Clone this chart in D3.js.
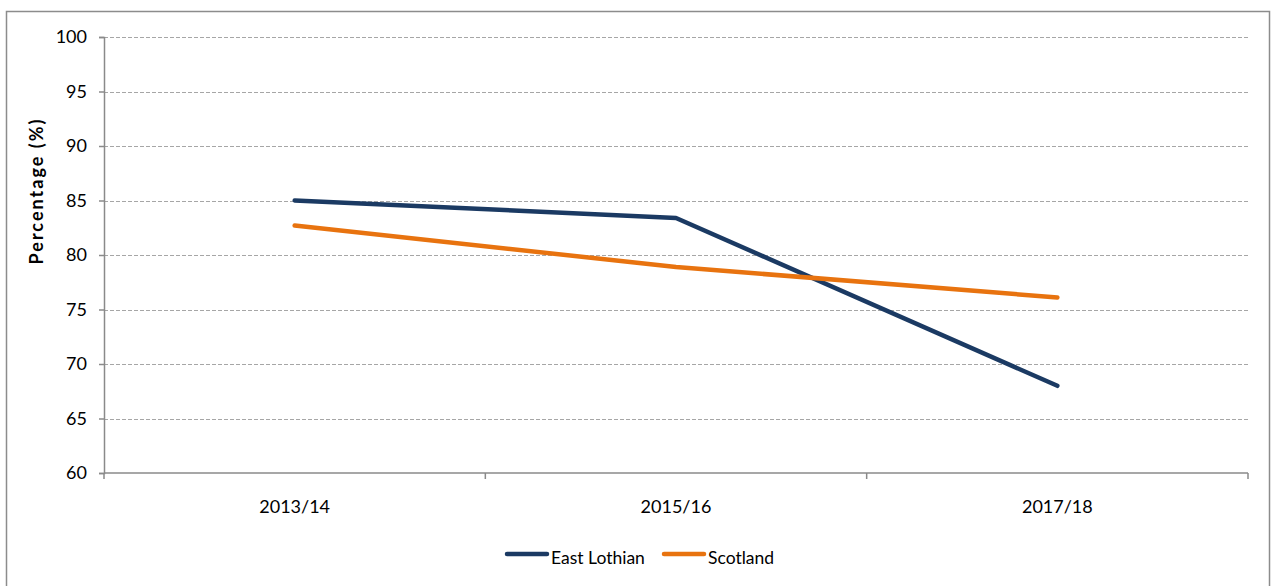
<!DOCTYPE html>
<html>
<head>
<meta charset="utf-8">
<script src="https://cdn.jsdelivr.net/npm/d3@7"></script>
<style>
  html, body { margin: 0; padding: 0; background: #fff; }
  svg { display: block; }
  text { font-family: Lato, "Open Sans", sans-serif; fill: #000; }
</style>
</head>
<body>
<svg id="chart" width="1274" height="586"></svg>
<script>
const categories = ["2013/14", "2015/16", "2017/18"];
const eastLothian = [85.0, 83.4, 68.0];
const scotland = [82.7, 78.9, 76.1];
const yTicks = [60, 65, 70, 75, 80, 85, 90, 95, 100];
const seriesNames = ["East Lothian", "Scotland"];
const seriesColors = ["#1b3a63", "#e8730f"];

(function () {
const svg = d3.select("#chart");
const pLeft = 104, pRight = 1248, pTop = 37, pBottom = 473;

// outer border
svg.append("rect")
  .attr("x", 6.5).attr("y", 11.5)
  .attr("width", 1263).attr("height", 600)
  .attr("fill", "#fff").attr("stroke", "#8c8c8c").attr("stroke-width", 1.5);

const x = d3.scaleBand().domain(categories).range([pLeft, pRight]);
const y = d3.scaleLinear().domain([60, 100]).range([pBottom, pTop]);

// gridlines
svg.append("g").selectAll("line")
  .data(yTicks.filter(t => t > 60))
  .join("line")
  .attr("x1", pLeft).attr("x2", pRight)
  .attr("y1", d => Math.round(y(d)) + 0.5).attr("y2", d => Math.round(y(d)) + 0.5)
  .attr("stroke", "#a6a6a6").attr("stroke-width", 1)
  .attr("stroke-dasharray", "4,2");

// y axis
const yAxis = d3.axisLeft(y).tickValues(yTicks).tickSize(5).tickPadding(12).tickFormat(d3.format("d"));
const gy = svg.append("g").attr("transform", `translate(${pLeft},0)`).call(yAxis);
gy.select(".domain").attr("stroke", "#8a8a8a").attr("stroke-width", 1.5);
gy.selectAll(".tick line").attr("stroke", "#8a8a8a").attr("stroke-width", 1.5);
gy.selectAll(".tick text").style("font-size", "18px").style("font-family", "Lato, sans-serif").attr("fill", "#000");

// x axis with boundary ticks
const gx = svg.append("g").attr("transform", `translate(0,${pBottom})`);
gx.append("line").attr("x1", pLeft).attr("x2", pRight).attr("y1", 0).attr("y2", 0)
  .attr("stroke", "#8a8a8a").attr("stroke-width", 1.5);
const bounds = categories.map(c => x(c)).concat([x(categories[categories.length - 1]) + x.bandwidth()]);
gx.selectAll("line.b").data(bounds).join("line").attr("class", "b")
  .attr("x1", d => d).attr("x2", d => d).attr("y1", 0).attr("y2", 6)
  .attr("stroke", "#8a8a8a").attr("stroke-width", 1.5);
gx.selectAll("text").data(categories).join("text")
  .attr("x", d => x(d) + x.bandwidth() / 2)
  .attr("y", 40)
  .attr("text-anchor", "middle")
  .style("font-size", "18px")
  .text(d => d);

// y label
svg.append("text")
  .attr("transform", "translate(43,192) rotate(-90)")
  .attr("text-anchor", "middle")
  .attr("textLength", 145)
  .attr("lengthAdjust", "spacing")
  .style("font-size", "18px").style("font-weight", "bold")
  .text("Percentage (%)");

// lines
const line = d3.line().x((d, i) => x(categories[i]) + x.bandwidth() / 2).y(d => y(d));
[eastLothian, scotland].forEach((s, i) => {
  svg.append("path").datum(s)
    .attr("d", line)
    .attr("fill", "none")
    .attr("stroke", seriesColors[i])
    .attr("stroke-width", 4.5)
    .attr("stroke-linecap", "round")
    .attr("stroke-linejoin", "round");
});

// legend
const legendItems = [
  { name: seriesNames[0], color: seriesColors[0], x0: 507 },
  { name: seriesNames[1], color: seriesColors[1], x0: 664 }
];
const lg = svg.append("g");
legendItems.forEach(it => {
  lg.append("line").attr("x1", it.x0).attr("x2", it.x0 + 40).attr("y1", 554).attr("y2", 554)
    .attr("stroke", it.color).attr("stroke-width", 4.5).attr("stroke-linecap", "round");
  lg.append("text").attr("x", it.x0 + 44).attr("y", 564).style("font-size", "17.5px").text(it.name);
});
})();
</script>
</body>
</html>
